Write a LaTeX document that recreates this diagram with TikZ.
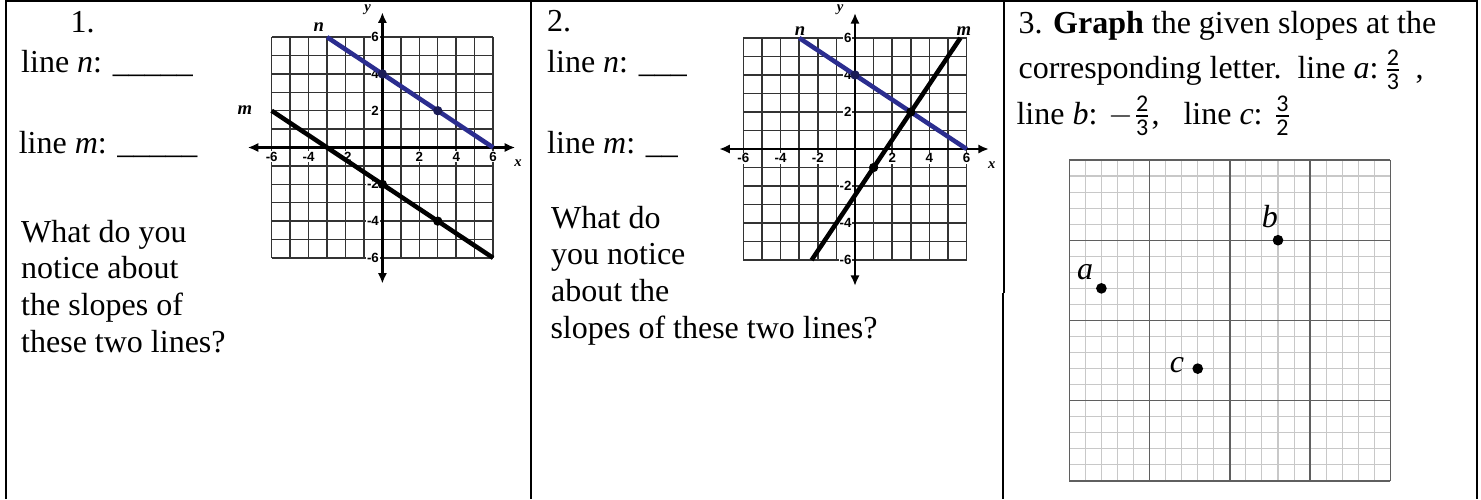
\documentclass[tikz,border=0pt]{standalone}
\usepackage{amsmath}
\usepackage{fontspec}
\setmainfont{Liberation Serif}
\setsansfont{Liberation Sans}
\newfontfamily\fracfont{Carlito}
\usepackage{xcolor}
\usepackage{tikz}
\usetikzlibrary{
  arrows.meta,
  positioning,
  calc
}
\definecolor{GraphBlue}{HTML}{2B2D8F}
\definecolor{GridMinor}{HTML}{C8C8C8}
\definecolor{GridMajor}{HTML}{5F5F5F}

\newcommand{\slope}[2]{$\frac{\hbox{\fracfont\fontsize{9}{9}\selectfont #1}}{\hbox{\fracfont\fontsize{9}{9}\selectfont #2}}$}

\tikzset{
  cellborder/.style={line width=0.75pt},
  txt/.style={anchor=base west, inner sep=0pt, font=\fontsize{12}{13.8}\selectfont},
  gridline/.style={draw=black!80, line width=0.55pt, step={(1,1)}},
  axisline/.style={line width=1pt, {Latex[length=4pt,width=3.5pt]}-{Latex[length=4pt,width=3.5pt]}},
  nline/.style={draw=GraphBlue, line width=1.7pt},
  mline/.style={draw=black, line width=1.7pt},
  ptdot/.style={circle, fill=black, inner sep=0pt, minimum size=3.5pt},
  ticklabel/.style={font=\sffamily\bfseries\fontsize{5}{5}\selectfont, fill=white, inner sep=0.3pt},
  axislabel/.style={font=\itshape\bfseries\fontsize{5.5}{5.5}\selectfont, inner sep=0pt},
  linelabel/.style={font=\itshape\bfseries\fontsize{7}{7}\selectfont, inner sep=0pt},
  minorgrid/.style={draw=GridMinor, line width=0.4pt, step={(1,1)}},
  majorgrid/.style={draw=GridMajor, line width=0.5pt, step={(5,5)}},
  bigdot/.style={circle, fill=black, inner sep=0pt, minimum size=4pt},
  pointlabel/.style={font=\itshape\fontsize{12}{12}\selectfont, inner sep=0pt}
}

\newcommand{\slopeaxes}[1]{%
  \draw[gridline] (-6,-6) grid (6,6);
  \foreach \t in {-6,-4,-2,2,4,6} {
    \node[ticklabel] (#1-xt\t) at (\t,-0.5) {\t};
    \node[ticklabel, anchor=east] (#1-yt\t) at (-0.12,\t) {\t};
  }
  \coordinate (#1-xl) at (-7.3,0);
  \coordinate (#1-xr) at (7.2,0);
  \coordinate (#1-yb) at (0,-7.4);
  \coordinate (#1-yt) at (0,7.35);
  \draw[axisline] (#1-xl) -- (#1-xr);
  \draw[axisline] (#1-yb) -- (#1-yt);
  \node[axislabel] (#1-xlab) at (7.35,-0.85) {x};
  \node[axislabel] (#1-ylab) at (-0.8,7.5) {y};
}

\begin{document}
\begin{tikzpicture}[x=0.375pt, y=-0.375pt]
  \useasboundingbox (0,0) rectangle (1481,499);

  \draw[cellborder] (5.5,499) -- (5.5,1) -- (1477,1) -- (1477,499);
  \draw[cellborder] (531,1) -- (531,499);
  \draw[line width=0.4pt] (1004,1) -- (1004,293);
  \draw[cellborder] (1003.3,293) -- (1003.3,499);

  % column 1
  \node[txt] (q1num) at (70,32.3) {1.};
  \node[txt] (q1n) at (20.7,72) {line \textit{n}: \_\_\_\_\_};
  \node[txt] (q1m) at (18.3,153) {line \textit{m}: \_\_\_\_\_};
  \foreach \txt [count=\i] in {What do you, notice about, the slopes of, these two lines?}
    \node[txt] (q1ask\i) at (20.7,{242+36.7*(\i-1)}) {\txt};

  \begin{scope}[shift={(382.4,147.5)}, x=6.92pt, y=6.9pt]
    \slopeaxes{g1}
    \coordinate (g1ns) at (-3,6);
    \coordinate (g1ne) at (6,0);
    \coordinate (g1ms) at (-6,2);
    \coordinate (g1me) at (6,-6);
    \draw[nline] (g1ns) -- (g1ne);
    \draw[mline] (g1ms) -- (g1me);
    \node[ptdot, fill=GraphBlue!60!black] (g1n1) at (0,4) {};
    \node[ptdot, fill=GraphBlue!60!black] (g1n2) at (3,2) {};
    \node[ptdot] (g1m1) at (0,-2) {};
    \node[ptdot] (g1m2) at (3,-4) {};
    \node[linelabel] (g1nlab) at (-3.45,6.55) {n};
    \node[linelabel] (g1mlab) at (-7.45,2.05) {m};
  \end{scope}

  % column 2
  \node[txt] (q2num) at (546.7,31.7) {2.};
  \node[txt] (q2n) at (546.7,72) {line \textit{n}: \_\_\_};
  \node[txt] (q2m) at (546.7,153) {line \textit{m}: \_\_};
  \foreach \txt [count=\i] in {What do, you notice, about the}
    \node[txt] (q2ask\i) at (550.7,{228+36.7*(\i-1)}) {\txt};
  \node[txt] (q2ask4) at (550,338) {slopes of these two lines?};

  \begin{scope}[shift={(855,149)}, x=6.975pt, y=6.94pt]
    \slopeaxes{g2}
    \coordinate (g2ns) at (-3,6);
    \coordinate (g2ne) at (6,0);
    \coordinate (g2ms) at (-2.333,-6);
    \coordinate (g2me) at (5.667,6);
    \draw[nline] (g2ns) -- (g2ne);
    \draw[mline] (g2ms) -- (g2me);
    \node[ptdot, fill=GraphBlue!60!black] (g2n1) at (0,4) {};
    \node[ptdot] (g2x) at (3,2) {};
    \node[ptdot] (g2m1) at (1,-1) {};
    \node[linelabel] (g2nlab) at (-2.95,6.35) {n};
    \node[linelabel] (g2mlab) at (5.85,6.35) {m};
  \end{scope}

  % column 3
  \node[txt] (q3head) at (1018,33.5) {3. \textbf{Graph} the given slopes at the};
  \node[txt] (q3a) at (1018,78) {corresponding letter.\ \ line \textit{a}:\,\slope{2}{3}\ \,,};
  \node[txt] (q3bc) at (1016,124) {line \textit{b}: $-$\slope{2}{3},\ \ \ line \textit{c}: \slope{3}{2}};

  \begin{scope}[shift={(1069.3,481)}, x=6.02pt, y=6.02pt]
    \draw[minorgrid] (0,0) grid (20,20);
    \draw[majorgrid] (0,0) grid (20,20);
    \node[bigdot] (pa) at (2,12) {};
    \node[bigdot] (pb) at (13,15) {};
    \node[bigdot] (pc) at (8,7) {};
    \node[pointlabel] (pal) at (0.98,13.04) {a};
    \node[pointlabel] (pbl) at (12.5,16.45) {b};
    \node[pointlabel] (pcl) at (6.7,7.25) {c};
  \end{scope}
\end{tikzpicture}
\end{document}
